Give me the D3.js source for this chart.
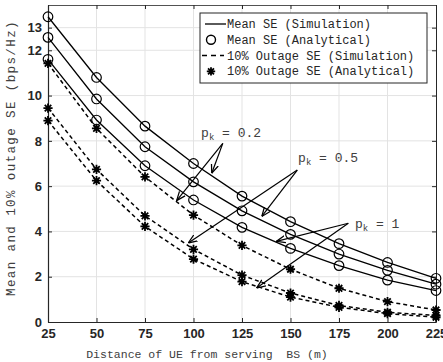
<!DOCTYPE html>
<html>
<head>
<meta charset="utf-8">
<script src="https://cdn.jsdelivr.net/npm/d3@7"></script>
<style>
  html, body { margin: 0; padding: 0; background: #fff; }
  svg { display: block; }
  .mono { font-family: "Liberation Mono", "DejaVu Sans Mono", monospace; fill: #262626; }
  .tick text { font-family: "Liberation Sans", Arial, sans-serif; font-weight: bold; font-size: 13px; fill: #262626; }
</style>
</head>
<body>
<svg id="chart" width="443" height="362"></svg>
<script>
// distances of UE from BS (m)
const distances = [25, 50, 75, 100, 125, 150, 175, 200, 225];
const yTicks = [0, 2, 4, 6, 8, 10, 12, 13];

// mean SE (bps/Hz), simulation line + analytical circles
const meanSE_p02 = [13.48, 10.80, 8.65, 7.00, 5.56, 4.43, 3.46, 2.63, 1.93];
const meanSE_p05 = [12.57, 9.85, 7.74, 6.19, 4.91, 3.87, 3.00, 2.28, 1.67];
const meanSE_p1  = [11.60, 8.92, 6.90, 5.39, 4.18, 3.25, 2.49, 1.85, 1.39];

// 10% outage SE (bps/Hz), simulation dashed + analytical stars
const outSE_p02 = [11.42, 8.55, 6.41, 4.72, 3.38, 2.33, 1.49, 0.90, 0.53];
const outSE_p05 = [9.45, 6.74, 4.69, 3.21, 2.07, 1.28, 0.73, 0.43, 0.29];
const outSE_p1  = [8.89, 6.24, 4.22, 2.78, 1.78, 1.10, 0.65, 0.37, 0.21];

const legendLabels = ["Mean SE (Simulation)", "Mean SE (Analytical)",
  "10% Outage SE (Simulation)", "10% Outage SE (Analytical)"];

// annotations in data space: text pos, arrow start, arrow ends
const notes = [
  {k: "0.2", text: [103.9, 8.17], from: [115.1, 7.89], to: [[109.4, 6.57], [91.3, 5.36]]},
  {k: "0.5", text: [153.9, 7.06], from: [153.5, 6.71], to: [[135.2, 4.66], [97.3, 3.49]]},
  {k: "1",   text: [183.2, 4.15], from: [179.8, 4.36], to: [[142.7, 3.56], [132.5, 1.50]]}
];

const W = 443, H = 362;
const M = {top: 5, right: 7, bottom: 40, left: 48};
const svg = d3.select("#chart");

const X = d3.scaleLinear().domain([25, 225]).range([M.left, W - M.right]);
const Y = d3.scaleLinear().domain([0, 14]).range([H - M.bottom, M.top]);

// grid
const grid = svg.append("g").attr("stroke", "#e3e3e3").attr("stroke-width", 1);
grid.selectAll("line.gx").data(distances.slice(1, -1)).join("line")
  .attr("x1", d => X(d)).attr("x2", d => X(d))
  .attr("y1", Y(0)).attr("y2", Y(14));
grid.selectAll("line.gy").data(yTicks.slice(1)).join("line")
  .attr("y1", d => Y(d)).attr("y2", d => Y(d))
  .attr("x1", X(25)).attr("x2", X(225));

// axes
const xAxis = svg.append("g")
  .attr("transform", `translate(0,${Y(0)})`)
  .call(d3.axisBottom(X).tickValues(distances).tickSizeInner(-4).tickSizeOuter(0).tickPadding(7));
const yAxis = svg.append("g")
  .attr("transform", `translate(${X(25)},0)`)
  .call(d3.axisLeft(Y).tickValues(yTicks).tickSizeInner(-4).tickSizeOuter(0).tickPadding(6));
[xAxis, yAxis].forEach(a => {
  a.select(".domain").attr("stroke", "#262626").attr("stroke-width", 1.2);
  a.selectAll(".tick line").attr("stroke", "#262626");
});
// top and right ticks
svg.append("g").call(d3.axisTop(X).tickValues(distances).tickSizeInner(-4).tickSizeOuter(0).tickFormat(""))
  .attr("transform", `translate(0,${Y(14)})`)
  .call(g => g.select(".domain").attr("stroke", "#262626").attr("stroke-width", 0.8))
  .call(g => g.selectAll(".tick line").attr("stroke", "#262626"));
svg.append("g").call(d3.axisRight(Y).tickValues(yTicks).tickSizeInner(-4).tickSizeOuter(0).tickFormat(""))
  .attr("transform", `translate(${X(225)},0)`)
  .call(g => g.select(".domain").attr("stroke", "#262626").attr("stroke-width", 1))
  .call(g => g.selectAll(".tick line").attr("stroke", "#262626"));

// axis titles
svg.append("text").attr("class", "mono")
  .attr("x", 207).attr("y", 358).attr("text-anchor", "middle")
  .attr("font-size", 11.5).attr("xml:space", "preserve").style("fill", "#404040")
  .text("Distance of UE from serving  BS (m)");
svg.append("text").attr("class", "mono")
  .attr("transform", `translate(15,${158}) rotate(-90)`)
  .attr("text-anchor", "middle").attr("font-size", 12.5).attr("letter-spacing", 1.4)
  .style("fill", "#404040")
  .text("Mean and 10% outage SE (bps/Hz)");

const line = d3.line().x((d, i) => X(distances[i])).y(d => Y(d));

const star = (g, x, y, r) => {
  const p = d3.path();
  for (let a = 0; a < 4; a++) {
    const t = a * Math.PI / 4;
    p.moveTo(x - r * Math.cos(t), y - r * Math.sin(t));
    p.lineTo(x + r * Math.cos(t), y + r * Math.sin(t));
  }
  g.append("path").attr("d", p.toString()).attr("stroke", "#000").attr("stroke-width", 1.8).attr("fill", "none");
};

[outSE_p02, outSE_p05, outSE_p1].forEach(s => {
  svg.append("path").attr("d", line(s)).attr("fill", "none")
    .attr("stroke", "#000").attr("stroke-width", 1.5).attr("stroke-dasharray", "4,3");
  const g = svg.append("g");
  s.forEach((v, i) => star(g, X(distances[i]), Y(v), 4.6));
});

[meanSE_p02, meanSE_p05, meanSE_p1].forEach(s => {
  svg.append("path").attr("d", line(s)).attr("fill", "none")
    .attr("stroke", "#000").attr("stroke-width", 1.3);
  svg.append("g").selectAll("circle").data(s).join("circle")
    .attr("cx", (d, i) => X(distances[i])).attr("cy", d => Y(d)).attr("r", 4.8)
    .attr("fill", "none").attr("stroke", "#000").attr("stroke-width", 1.2);
});

// arrows
svg.append("defs").append("marker")
  .attr("id", "arr").attr("viewBox", "0 0 10 10").attr("refX", 10).attr("refY", 5)
  .attr("markerWidth", 9).attr("markerHeight", 9).attr("markerUnits", "userSpaceOnUse")
  .attr("orient", "auto")
  .append("path").attr("d", "M0,1 L10,5 L0,9").attr("fill", "none")
  .attr("stroke", "#000").attr("stroke-width", 1.4);

notes.forEach(n => {
  n.to.forEach(t => {
    svg.append("line")
      .attr("x1", X(n.from[0])).attr("y1", Y(n.from[1]))
      .attr("x2", X(t[0])).attr("y2", Y(t[1]))
      .attr("stroke", "#000").attr("stroke-width", 1.2).attr("marker-end", "url(#arr)");
  });
  const tx = svg.append("text").attr("class", "mono").attr("font-size", 13)
    .attr("x", X(n.text[0])).attr("y", Y(n.text[1])).attr("xml:space", "preserve")
    .style("fill", "#404040");
  tx.append("tspan").text("p");
  tx.append("tspan").attr("font-size", 9).attr("dy", 3).text("k");
  tx.append("tspan").attr("dy", -3).text(" = " + n.k);
});

// legend
const lg = svg.append("g");
lg.append("rect").attr("x", 200).attr("y", 13).attr("width", 227).attr("height", 70)
  .attr("fill", "#fff").attr("stroke", "#262626").attr("stroke-width", 1);
legendLabels.forEach((t, i) => {
  const cy = 24 + i * 15.8;
  lg.append("text").attr("class", "mono").attr("font-size", 12)
    .attr("x", 227).attr("y", cy + 4).text(t);
  if (i === 0) lg.append("line").attr("x1", 205).attr("x2", 226).attr("y1", cy).attr("y2", cy)
    .attr("stroke", "#000").attr("stroke-width", 1.3);
  if (i === 1) lg.append("circle").attr("cx", 211).attr("cy", cy).attr("r", 4.5)
    .attr("fill", "none").attr("stroke", "#000").attr("stroke-width", 1.4);
  if (i === 2) lg.append("line").attr("x1", 202).attr("x2", 224).attr("y1", cy).attr("y2", cy)
    .attr("stroke", "#000").attr("stroke-width", 1.5).attr("stroke-dasharray", "5,4");
  if (i === 3) star(lg, 211, cy, 4.2);
});
</script>
</body>
</html>
